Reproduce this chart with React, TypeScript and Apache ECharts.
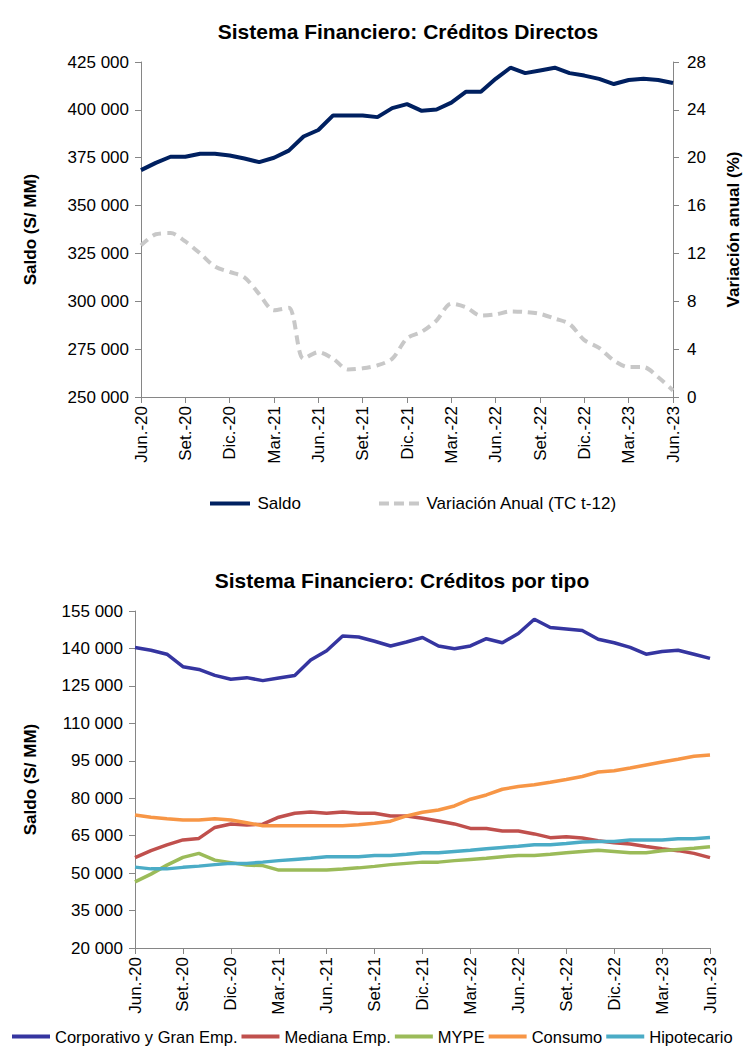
import React, { useEffect, useRef } from "react";
import * as echarts from "echarts";

const months = [
  "Jun.-20","Jul.-20","Ago.-20","Set.-20","Oct.-20","Nov.-20","Dic.-20","Ene.-21","Feb.-21","Mar.-21","Abr.-21","May.-21",
  "Jun.-21","Jul.-21","Ago.-21","Set.-21","Oct.-21","Nov.-21","Dic.-21","Ene.-22","Feb.-22","Mar.-22","Abr.-22","May.-22",
  "Jun.-22","Jul.-22","Ago.-22","Set.-22","Oct.-22","Nov.-22","Dic.-22","Ene.-23","Feb.-23","Mar.-23","Abr.-23","May.-23","Jun.-23",
];

const saldo = [
  368500, 372300, 375500, 375500, 377100, 377100, 376200, 374600, 372700, 375000, 378700, 386100,
  389500, 397100, 397100, 397100, 396200, 400900, 403000, 399500, 400200, 403800, 409500, 409500,
  416200, 422000, 419200, 420600, 422000, 419200, 417900, 416200, 413500, 415600, 416200, 415600, 414000,
];

const variacion = [
  12.67, 13.6, 13.7, 13.0, 12.0, 10.9, 10.45, 10.0, 8.6, 7.25, 7.45, 3.2,
  3.75, 3.2, 2.3, 2.4, 2.65, 3.2, 4.9, 5.45, 6.4, 7.8, 7.5, 6.8,
  6.9, 7.15, 7.1, 6.95, 6.55, 6.1, 4.75, 4.1, 3.05, 2.5, 2.5, 1.65, 0.55,
];

const corporativo = [
  140400, 139300, 137700, 132700, 131600, 129200, 127650, 128300, 127100, 128200, 129200, 135400,
  139100, 145000, 144600, 142900, 141000, 142600, 144400, 141000, 139900, 141000, 143900, 142300,
  146000, 151700, 148400, 147800, 147200, 143700, 142300, 140400, 137700, 138800, 139300, 137700, 136000,
];

const mediana = [
  56200, 59000, 61300, 63300, 63900, 68300, 69700, 69300, 69600, 72400, 74000, 74500,
  74000, 74500, 74000, 74000, 72900, 72900, 72000, 70900, 69700, 67900, 67900, 66900,
  66900, 65700, 64200, 64600, 64100, 63000, 62200, 61700, 60700, 59800, 59000, 57900, 56200,
];

const mype = [
  46500, 49600, 53200, 56300, 57900, 55200, 54200, 53200, 53000, 51200, 51200, 51200,
  51200, 51600, 52100, 52700, 53400, 53900, 54400, 54400, 55000, 55500, 56000, 56600,
  57100, 57100, 57600, 58200, 58700, 59200, 58700, 58200, 58200, 59000, 59500, 60000, 60600,
];

const consumo = [
  73300, 72400, 71800, 71300, 71300, 71800, 71300, 70200, 69000, 69000, 69000, 69000,
  69000, 69000, 69400, 70000, 70800, 72900, 74400, 75300, 76900, 79600, 81300, 83600,
  84700, 85400, 86400, 87500, 88700, 90500, 91000, 92100, 93300, 94500, 95600, 96800, 97300,
];

const hipotecario = [
  52400, 51700, 51700, 52300, 52800, 53400, 53900, 53900, 54400, 55000, 55500, 56000,
  56600, 56600, 56600, 57100, 57100, 57600, 58200, 58200, 58700, 59200, 59800, 60300,
  60800, 61400, 61400, 61900, 62500, 62700, 62700, 63300, 63300, 63300, 63800, 63800, 64300,
];

const FONT = "'Liberation Sans Narrow', 'Liberation Sans', Arial, sans-serif";
const AXIS_COLOR = "#868686";
const SOLID_ICON = "path://M0,0h40v4h-40z";
const DASH_ICON = "path://M0,0h10v4h-10z M15,0h10v4h-10z M30,0h10v4h-10z";

const fmt = (v: number) => String(v).replace(/\B(?=(\d{3})+(?!\d))/g, " ");

function xAxisCfg(gridIndex: number) {
  return {
    type: "category",
    gridIndex,
    data: months,
    boundaryGap: false,
    axisLine: { lineStyle: { color: AXIS_COLOR, width: 1 } },
    axisTick: { interval: 2, length: 6, lineStyle: { color: AXIS_COLOR } },
    axisLabel: {
      interval: 2,
      rotate: 90,
      fontFamily: FONT,
      fontSize: 17,
      color: "#000",
      margin: 9,
    },
    splitLine: { show: false },
  };
}

const nameStyle = { fontFamily: FONT, fontSize: 17, fontWeight: "bold", color: "#000" };
const labelStyle = { fontFamily: FONT, fontSize: 17, color: "#000" };

export default function App() {
  const ref = useRef<HTMLDivElement>(null);
  useEffect(() => {
    document.body.style.margin = "0";
    if (!ref.current) return;
    const chart = echarts.init(ref.current, null, { renderer: "svg" });
    const option = {
      animation: false,
      backgroundColor: "#fff",
      title: [
        {
          text: "Sistema Financiero: Créditos Directos",
          left: 403,
          top: 16,
          textAlign: "center",
          textStyle: { fontFamily: FONT, fontSize: 21, fontWeight: "bold", color: "#000" },
        },
        {
          text: "Sistema Financiero: Créditos por tipo",
          left: 397,
          top: 565,
          textAlign: "center",
          textStyle: { fontFamily: FONT, fontSize: 21, fontWeight: "bold", color: "#000" },
        },
      ],
      legend: [
        {
          top: 490,
          left: 205,
          itemWidth: 45,
          itemHeight: 4,
          itemGap: 78,
          data: [
            { name: "Saldo", icon: SOLID_ICON },
            { name: "Variación Anual (TC t-12)", icon: DASH_ICON },
          ],
          textStyle: { ...labelStyle },
        },
        {
          top: 1028,
          left: 12,
          width: 739,
          padding: 0,
          itemWidth: 38,
          itemHeight: 4,
          itemGap: 4,
          data: [
            { name: "Corporativo y Gran Emp.", icon: SOLID_ICON },
            { name: "Mediana Emp.", icon: SOLID_ICON },
            { name: "MYPE", icon: SOLID_ICON },
            { name: "Consumo", icon: SOLID_ICON },
            { name: "Hipotecario", icon: SOLID_ICON },
          ],
          textStyle: { ...labelStyle, fontSize: 16.5 },
        },
      ],
      grid: [
        { left: 141, right: 78, top: 62, height: 335 },
        { left: 135, right: 41, top: 611, height: 337 },
      ],
      xAxis: [xAxisCfg(0), xAxisCfg(1)],
      yAxis: [
        {
          type: "value",
          gridIndex: 0,
          min: 250000,
          max: 425000,
          interval: 25000,
          name: "Saldo (S/ MM)",
          nameLocation: "middle",
          nameRotate: 90,
          nameGap: 102,
          nameTextStyle: nameStyle,
          axisLine: { show: true, lineStyle: { color: AXIS_COLOR } },
          axisTick: { show: true, length: 6, lineStyle: { color: AXIS_COLOR } },
          axisLabel: { ...labelStyle, formatter: fmt, margin: 12 },
          splitLine: { show: false },
        },
        {
          type: "value",
          gridIndex: 0,
          position: "right",
          min: 0,
          max: 28,
          interval: 4,
          name: "Variación anual (%)",
          nameLocation: "middle",
          nameRotate: 90,
          nameGap: 52,
          nameTextStyle: nameStyle,
          axisLine: { show: true, lineStyle: { color: AXIS_COLOR } },
          axisTick: { show: true, length: 6, lineStyle: { color: AXIS_COLOR } },
          axisLabel: { ...labelStyle, margin: 14 },
          splitLine: { show: false },
        },
        {
          type: "value",
          gridIndex: 1,
          min: 20000,
          max: 155000,
          interval: 15000,
          name: "Saldo (S/ MM)",
          nameLocation: "middle",
          nameRotate: 90,
          nameGap: 96,
          nameTextStyle: nameStyle,
          axisLine: { show: true, lineStyle: { color: AXIS_COLOR } },
          axisTick: { show: true, length: 6, lineStyle: { color: AXIS_COLOR } },
          axisLabel: { ...labelStyle, formatter: fmt, margin: 12 },
          splitLine: { show: false },
        },
      ],
      series: [
        {
          name: "Saldo",
          type: "line",
          xAxisIndex: 0,
          yAxisIndex: 0,
          data: saldo,
          symbol: "none",
          lineStyle: { color: "#002060", width: 4 },
          itemStyle: { color: "#002060" },
        },
        {
          name: "Variación Anual (TC t-12)",
          type: "line",
          xAxisIndex: 0,
          yAxisIndex: 1,
          data: variacion,
          smooth: 0.3,
          symbol: "none",
          lineStyle: { color: "#C8C8C8", width: 4, type: [9, 6] },
          itemStyle: { color: "#C8C8C8" },
        },
        {
          name: "Corporativo y Gran Emp.",
          type: "line",
          xAxisIndex: 1,
          yAxisIndex: 2,
          data: corporativo,
          symbol: "none",
          lineStyle: { color: "#3535A0", width: 3.5 },
          itemStyle: { color: "#3535A0" },
        },
        {
          name: "Mediana Emp.",
          type: "line",
          xAxisIndex: 1,
          yAxisIndex: 2,
          data: mediana,
          symbol: "none",
          lineStyle: { color: "#C0504D", width: 3.5 },
          itemStyle: { color: "#C0504D" },
        },
        {
          name: "MYPE",
          type: "line",
          xAxisIndex: 1,
          yAxisIndex: 2,
          data: mype,
          symbol: "none",
          lineStyle: { color: "#9BBB59", width: 3.5 },
          itemStyle: { color: "#9BBB59" },
        },
        {
          name: "Consumo",
          type: "line",
          xAxisIndex: 1,
          yAxisIndex: 2,
          data: consumo,
          symbol: "none",
          lineStyle: { color: "#F79646", width: 3.5 },
          itemStyle: { color: "#F79646" },
        },
        {
          name: "Hipotecario",
          type: "line",
          xAxisIndex: 1,
          yAxisIndex: 2,
          data: hipotecario,
          symbol: "none",
          lineStyle: { color: "#4BACC6", width: 3.5 },
          itemStyle: { color: "#4BACC6" },
        },
      ],
    };
    chart.setOption(option as any);
    return () => chart.dispose();
  }, []);
  return <div ref={ref} style={{ width: 751, height: 1053 }} />;
}
